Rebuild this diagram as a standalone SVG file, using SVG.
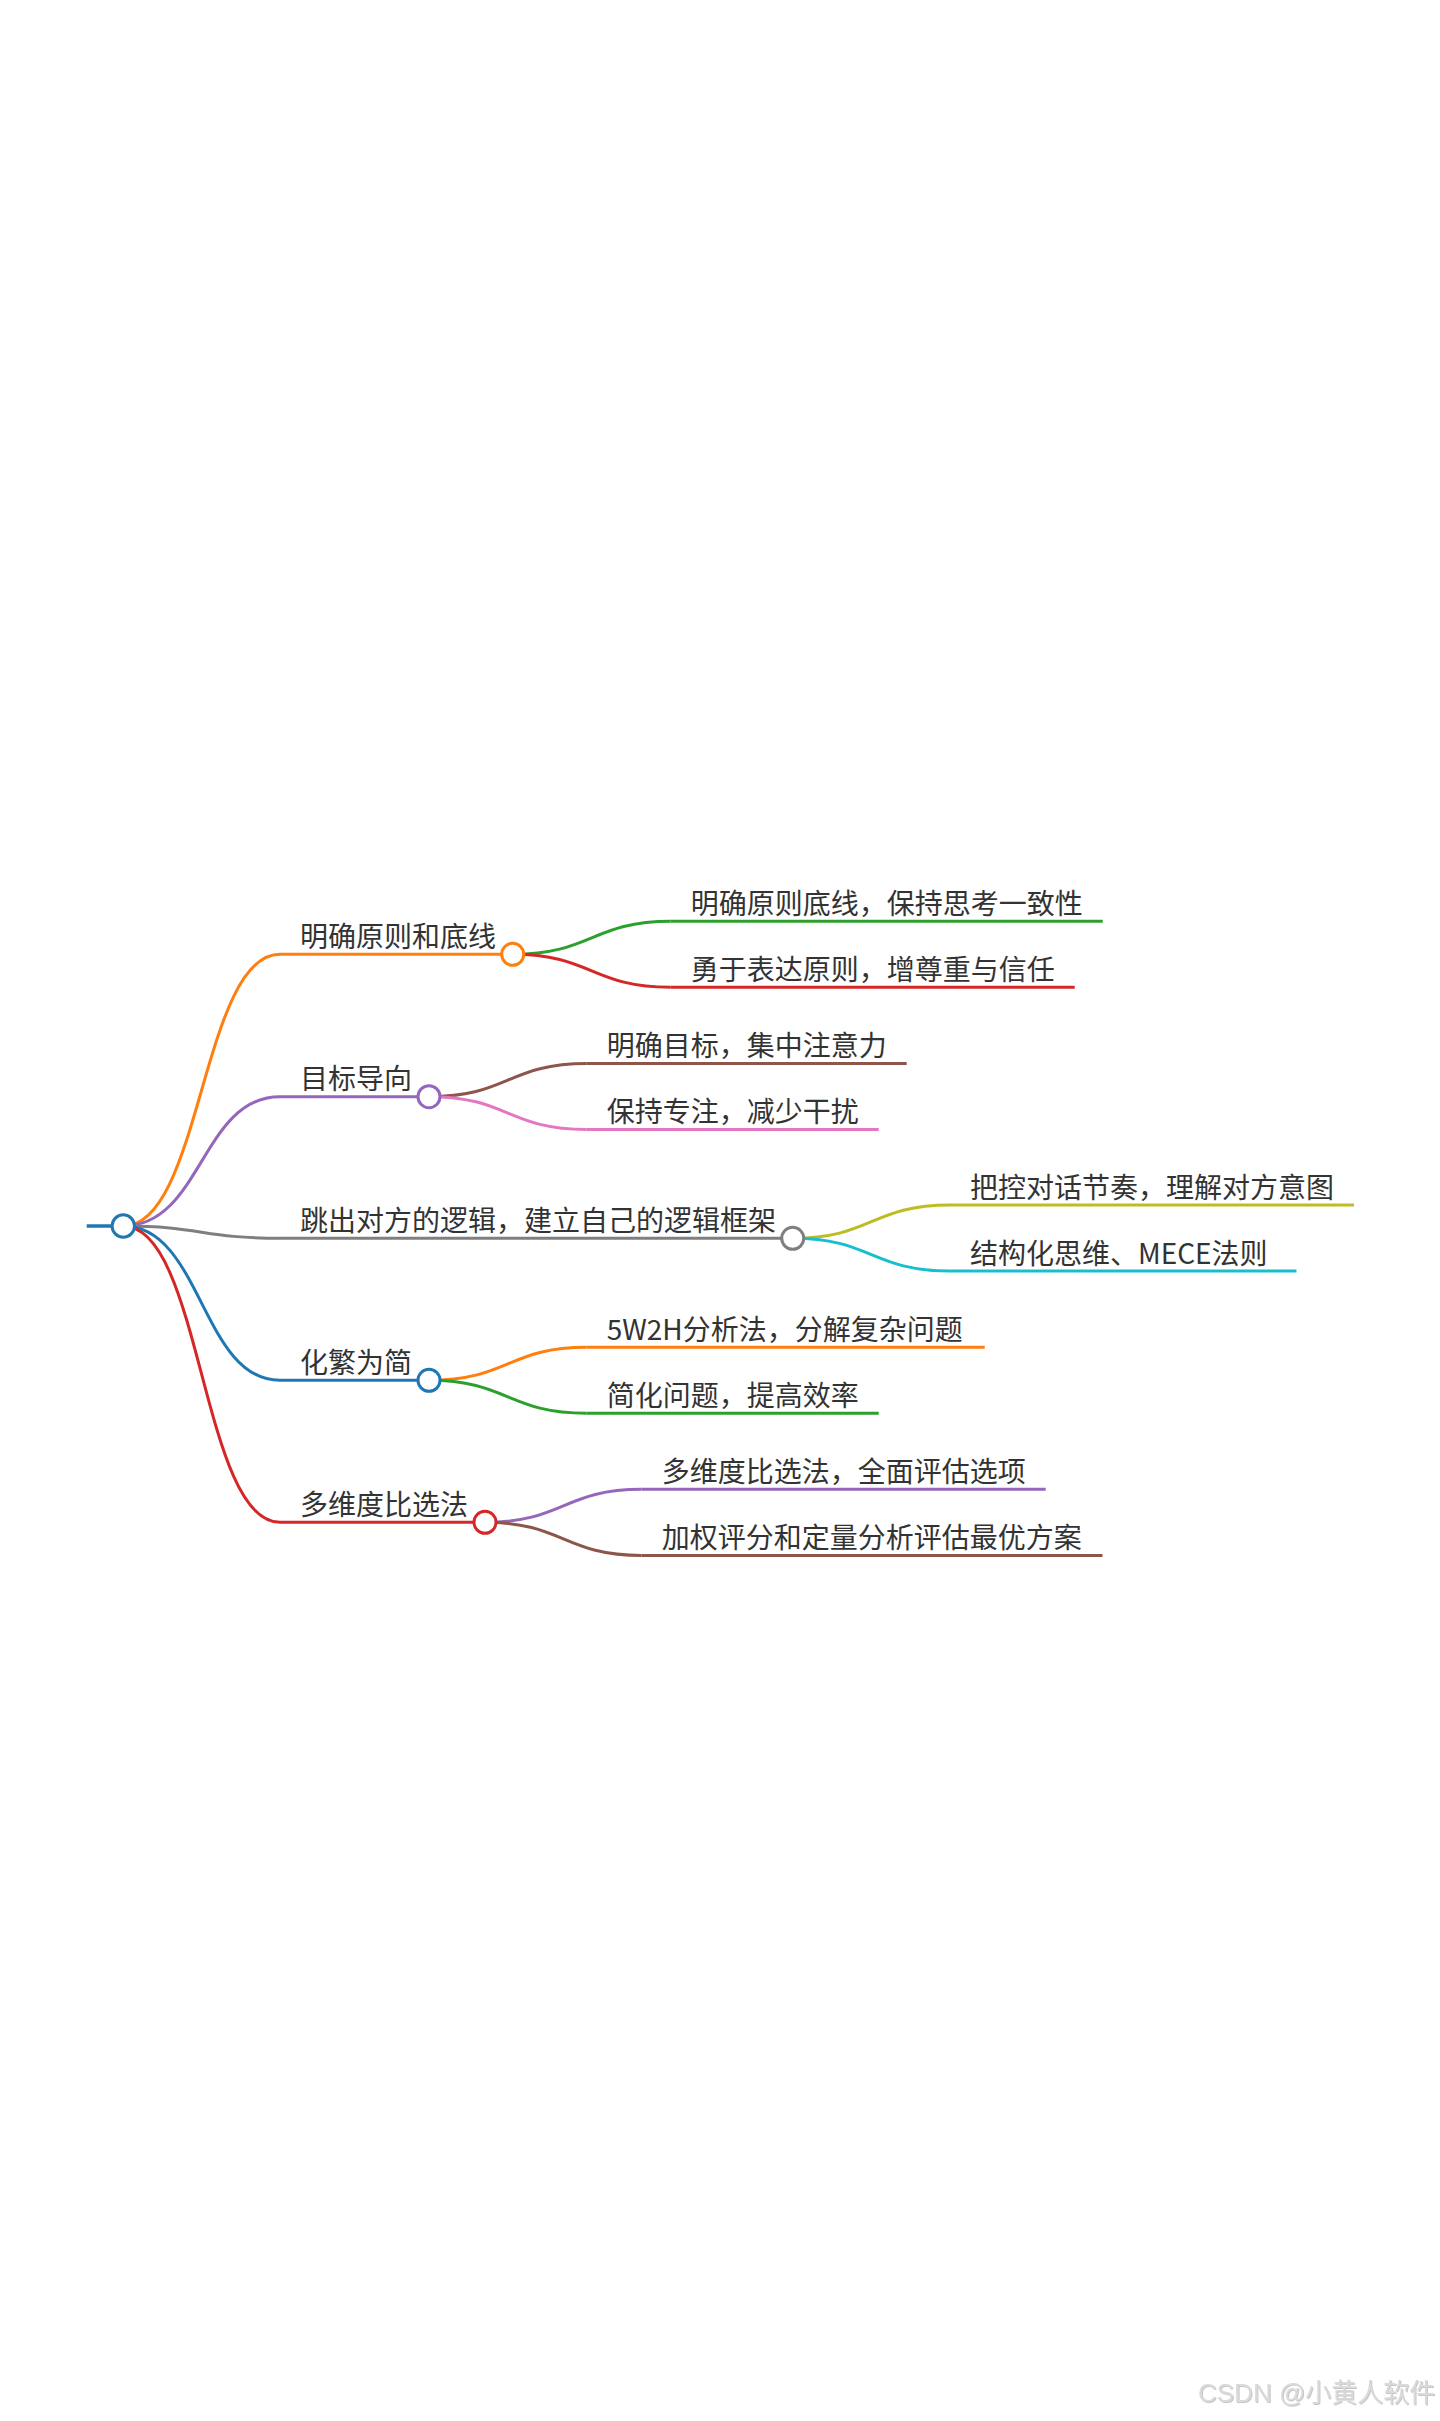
<svg xmlns="http://www.w3.org/2000/svg" width="1440" height="2421" viewBox="0 0 1440 2421">
<defs>
<style>
.t{font-family:"Noto Sans CJK SC","Noto Sans",sans-serif;font-size:28px;fill:#333}
.ln{stroke-width:3;fill:none;stroke-linecap:butt}
.lk{stroke-width:3;fill:none}
.c{fill:#fff;stroke-width:3}
.wm{font-family:"Liberation Sans","Noto Sans CJK SC",sans-serif;font-size:26px;fill:#dadada}
</style>
<filter id="sh" x="-5%" y="-20%" width="110%" height="140%">
<feDropShadow dx="1" dy="1" stdDeviation="0.6" flood-color="#8a8a8a" flood-opacity="0.5"/>
</filter>
</defs>
<rect width="1440" height="2421" fill="#fff"/>
<g id="connectors">
<path class="lk" stroke="#ff7f0e" d="M123.3,1226 C201.6,1226 201.6,954.3 280,954.3"/>
<path class="lk" stroke="#9467bd" d="M123.3,1226 C201.6,1226 201.6,1096.7 280,1096.7"/>
<path class="lk" stroke="#7f7f7f" d="M123.3,1226 C201.6,1226 201.6,1238.3 280,1238.3"/>
<path class="lk" stroke="#1f77b4" d="M123.3,1226 C201.6,1226 201.6,1380.3 280,1380.3"/>
<path class="lk" stroke="#d62728" d="M123.3,1226 C201.6,1226 201.6,1522.3 280,1522.3"/>
<path class="lk" stroke="#2ca02c" d="M512.7,954.3 C591.7,954.3 591.7,921.3 670.7,921.3"/>
<path class="lk" stroke="#d62728" d="M512.7,954.3 C591.7,954.3 591.7,987.3 670.7,987.3"/>
<path class="lk" stroke="#8c564b" d="M429,1096.7 C507.9,1096.7 507.9,1063.5 586.7,1063.5"/>
<path class="lk" stroke="#e377c2" d="M429,1096.7 C507.9,1096.7 507.9,1129.5 586.7,1129.5"/>
<path class="lk" stroke="#bcbd22" d="M792.7,1238.3 C871.4,1238.3 871.4,1205 950,1205"/>
<path class="lk" stroke="#17becf" d="M792.7,1238.3 C871.4,1238.3 871.4,1271 950,1271"/>
<path class="lk" stroke="#ff7f0e" d="M429,1380.3 C507.9,1380.3 507.9,1347.3 586.7,1347.3"/>
<path class="lk" stroke="#2ca02c" d="M429,1380.3 C507.9,1380.3 507.9,1413.3 586.7,1413.3"/>
<path class="lk" stroke="#9467bd" d="M485,1522.3 C563.4,1522.3 563.4,1489.3 641.7,1489.3"/>
<path class="lk" stroke="#8c564b" d="M485,1522.3 C563.4,1522.3 563.4,1555.5 641.7,1555.5"/>
</g>
<g id="node-root">
<line x1="86.7" y1="1226" x2="123.3" y2="1226" stroke="#1f77b4" stroke-width="3.6"/>
<circle class="c" cx="123.3" cy="1226" r="11.2" stroke="#1f77b4" stroke-width="3.4"/>
</g>
<g id="node-1">
<line class="ln" x1="280" y1="954.3" x2="512.7" y2="954.3" stroke="#ff7f0e"/>
<text class="t" x="300" y="946.8">明确原则和底线</text>
<circle class="c" cx="512.7" cy="954.3" r="11" stroke="#ff7f0e"/>
</g>
<g id="node-2">
<line class="ln" x1="670.7" y1="921.3" x2="1102.7" y2="921.3" stroke="#2ca02c"/>
<text class="t" x="690.7" y="913.8">明确原则底线，保持思考一致性</text>
</g>
<g id="node-3">
<line class="ln" x1="670.7" y1="987.3" x2="1074.7" y2="987.3" stroke="#d62728"/>
<text class="t" x="690.7" y="979.8">勇于表达原则，增尊重与信任</text>
</g>
<g id="node-4">
<line class="ln" x1="280" y1="1096.7" x2="429" y2="1096.7" stroke="#9467bd"/>
<text class="t" x="300" y="1089.2">目标导向</text>
<circle class="c" cx="429" cy="1096.7" r="11" stroke="#9467bd"/>
</g>
<g id="node-5">
<line class="ln" x1="586.7" y1="1063.5" x2="906.7" y2="1063.5" stroke="#8c564b"/>
<text class="t" x="606.7" y="1056">明确目标，集中注意力</text>
</g>
<g id="node-6">
<line class="ln" x1="586.7" y1="1129.5" x2="878.7" y2="1129.5" stroke="#e377c2"/>
<text class="t" x="606.7" y="1122">保持专注，减少干扰</text>
</g>
<g id="node-7">
<line class="ln" x1="280" y1="1238.3" x2="792.7" y2="1238.3" stroke="#7f7f7f"/>
<text class="t" x="300" y="1230.8">跳出对方的逻辑，建立自己的逻辑框架</text>
<circle class="c" cx="792.7" cy="1238.3" r="11" stroke="#7f7f7f"/>
</g>
<g id="node-8">
<line class="ln" x1="950" y1="1205" x2="1354" y2="1205" stroke="#bcbd22"/>
<text class="t" x="970" y="1197.5">把控对话节奏，理解对方意图</text>
</g>
<g id="node-9">
<line class="ln" x1="950" y1="1271" x2="1296.5" y2="1271" stroke="#17becf"/>
<text class="t" x="970" y="1263.5">结构化思维、MECE法则</text>
</g>
<g id="node-10">
<line class="ln" x1="280" y1="1380.3" x2="429" y2="1380.3" stroke="#1f77b4"/>
<text class="t" x="300" y="1372.8">化繁为简</text>
<circle class="c" cx="429" cy="1380.3" r="11" stroke="#1f77b4"/>
</g>
<g id="node-11">
<line class="ln" x1="586.7" y1="1347.3" x2="984.7" y2="1347.3" stroke="#ff7f0e"/>
<text class="t" x="606.7" y="1339.8">5W2H分析法，分解复杂问题</text>
</g>
<g id="node-12">
<line class="ln" x1="586.7" y1="1413.3" x2="878.7" y2="1413.3" stroke="#2ca02c"/>
<text class="t" x="606.7" y="1405.8">简化问题，提高效率</text>
</g>
<g id="node-13">
<line class="ln" x1="280" y1="1522.3" x2="485" y2="1522.3" stroke="#d62728"/>
<text class="t" x="300" y="1514.8">多维度比选法</text>
<circle class="c" cx="485" cy="1522.3" r="11" stroke="#d62728"/>
</g>
<g id="node-14">
<line class="ln" x1="641.7" y1="1489.3" x2="1045.7" y2="1489.3" stroke="#9467bd"/>
<text class="t" x="661.7" y="1481.8">多维度比选法，全面评估选项</text>
</g>
<g id="node-15">
<line class="ln" x1="641.7" y1="1555.5" x2="1102.5" y2="1555.5" stroke="#8c564b"/>
<text class="t" x="661.7" y="1548">加权评分和定量分析评估最优方案</text>
</g>
<g id="watermark">
<text class="wm" x="1198" y="2402" filter="url(#sh)">CSDN @小黄人软件</text>
</g>
</svg>
